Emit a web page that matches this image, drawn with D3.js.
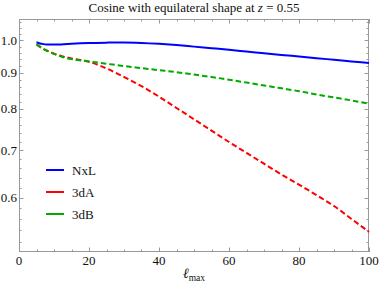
<!DOCTYPE html>
<html>
<head>
<meta charset="utf-8">
<script src="https://cdn.jsdelivr.net/npm/d3@7"></script>
<style>
  html, body { margin: 0; padding: 0; background: #fff; }
  svg { display: block; font-family: "Liberation Serif", "DejaVu Serif", serif; }
</style>
</head>
<body>
<div id="chart"></div>
<script>
// ---- data ----
const ell = [5, 6, 7, 8, 9, 10, 12, 15, 20, 25, 30, 35, 40, 45, 50, 55, 60, 65, 70, 75, 80, 85, 90, 95, 100];
const nxl = [0.994, 0.990, 0.988, 0.987, 0.9865, 0.9865, 0.987, 0.989, 0.9915, 0.9928, 0.9935, 0.992, 0.989, 0.985, 0.980,
             0.975, 0.970, 0.9645, 0.959, 0.954, 0.949, 0.944, 0.939, 0.934, 0.929];
const dA = [0.987, 0.979, 0.972, 0.967, 0.963, 0.958, 0.951, 0.943, 0.933, 0.913, 0.888, 0.862, 0.833, 0.803, 0.774,
            0.746, 0.719, 0.694, 0.670, 0.647, 0.626, 0.605, 0.584, 0.560, 0.537];
const dB = [0.988, 0.980, 0.973, 0.967, 0.962, 0.957, 0.949, 0.941, 0.934, 0.927, 0.920, 0.914, 0.908, 0.902, 0.895,
            0.888, 0.880, 0.872, 0.864, 0.856, 0.848, 0.839, 0.831, 0.823, 0.814];

const seriesNames = ["NxL", "3dA", "3dB"];
const seriesColors = ["#0000ff", "#ff0000", "#00aa00"];
const seriesDashed = [false, true, true];

const xMajor = [0, 20, 40, 60, 80, 100];
const xMinor = [5, 10, 15, 25, 30, 35, 45, 50, 55, 65, 70, 75, 85, 90, 95];
const yMajor = [0.6, 0.7, 0.8, 0.9, 1.0];
const yMinor = [0.52, 0.54, 0.56, 0.58, 0.62, 0.64, 0.66, 0.68, 0.72, 0.74, 0.76, 0.78,
                0.82, 0.84, 0.86, 0.88, 0.92, 0.94, 0.96, 0.98, 1.02, 1.04, 1.06];

const W = 379, H = 289;
const margin = { top: 19, right: 10, bottom: 37, left: 19 };
const width = W - margin.left - margin.right;
const height = H - margin.top - margin.bottom;

const svg = d3.select("#chart").append("svg")
    .attr("width", W)
    .attr("height", H);

const g = svg.append("g")
    .attr("transform", `translate(${margin.left},${margin.top})`);

const x = d3.scaleLinear().domain([0, 100]).range([0, width]);
const y = d3.scaleLog().domain([0.503, 1.072]).range([height, 0]);

const frameColor = "#999999";
const textColor = "#111";
const fontSize = "13px";

// =========================
// TICKS (inside the frame, mirrored on all sides)
// =========================
const ticks = g.append("g").attr("stroke", frameColor).attr("stroke-width", 1);
const addX = (vals, len) => vals.forEach(v => {
    const px = Math.round(x(v)) + 0.5;
    ticks.append("line").attr("x1", px).attr("x2", px).attr("y1", height).attr("y2", height - len);
    ticks.append("line").attr("x1", px).attr("x2", px).attr("y1", 0).attr("y2", len);
});
const addY = (vals, len) => vals.forEach(v => {
    const py = Math.round(y(v)) + 0.5;
    ticks.append("line").attr("x1", 0).attr("x2", len).attr("y1", py).attr("y2", py);
    ticks.append("line").attr("x1", width).attr("x2", width - len).attr("y1", py).attr("y2", py);
});
addX(xMajor, 4.5);
addX(xMinor, 2.5);
addY(yMajor, 4.5);
addY(yMinor, 2.5);

// frame
g.append("rect")
    .attr("x", 0.5).attr("y", 0.5)
    .attr("width", width - 1).attr("height", height - 1)
    .attr("fill", "none")
    .attr("stroke", frameColor)
    .attr("stroke-width", 1);

// tick labels
g.selectAll("text.xt")
    .data(xMajor)
    .enter().append("text")
    .attr("class", "xt")
    .attr("x", d => x(d))
    .attr("y", height + 12.5)
    .attr("text-anchor", "middle")
    .style("font-size", fontSize)
    .style("fill", textColor)
    .text(d => d);

g.selectAll("text.yt")
    .data(yMajor)
    .enter().append("text")
    .attr("class", "yt")
    .attr("x", -2)
    .attr("y", d => y(d) + 4.3)
    .attr("text-anchor", "end")
    .style("font-size", fontSize)
    .style("fill", textColor)
    .text(d => d.toFixed(1));

// =========================
// LINES
// =========================
const allSeries = [nxl, dA, dB];
const line = d3.line()
    .x(d => x(d[0]))
    .y(d => y(d[1]))
    .curve(d3.curveMonotoneX);

allSeries.forEach((vals, i) => {
    g.append("path")
        .datum(ell.map((l, k) => [l, vals[k]]))
        .attr("fill", "none")
        .attr("stroke", seriesColors[i])
        .attr("stroke-width", 2)
        .attr("stroke-dasharray", seriesDashed[i] ? "5.5,3" : null)
        .attr("d", line);
});

// =========================
// LEGEND
// =========================
const legend = g.append("g").attr("transform", "translate(27,151)");
seriesNames.forEach((name, i) => {
    const row = legend.append("g").attr("transform", `translate(0,${i * 22})`);
    row.append("line")
        .attr("x1", 0).attr("x2", 18)
        .attr("y1", 0).attr("y2", 0)
        .attr("stroke", seriesColors[i])
        .attr("stroke-width", 2);
    row.append("text")
        .attr("x", 26)
        .attr("y", 4.5)
        .style("font-size", fontSize)
        .style("fill", textColor)
        .text(name);
});

// =========================
// TITLE + AXIS LABEL
// =========================
const title = svg.append("text")
    .attr("x", margin.left + width / 2)
    .attr("y", 12)
    .attr("text-anchor", "middle")
    .style("font-size", fontSize)
    .style("fill", textColor);
title.append("tspan").text("Cosine with equilateral shape at ");
title.append("tspan").style("font-style", "italic").text("z");
title.append("tspan").text(" = 0.55");

const xl = svg.append("text")
    .attr("x", margin.left + width / 2)
    .attr("y", 278)
    .attr("text-anchor", "middle")
    .style("font-size", "14px")
    .style("fill", textColor);
xl.append("tspan").style("font-style", "italic").text("ℓ");
xl.append("tspan").attr("dy", 2.5).style("font-size", "9.5px").text("max");
</script>
</body>
</html>
